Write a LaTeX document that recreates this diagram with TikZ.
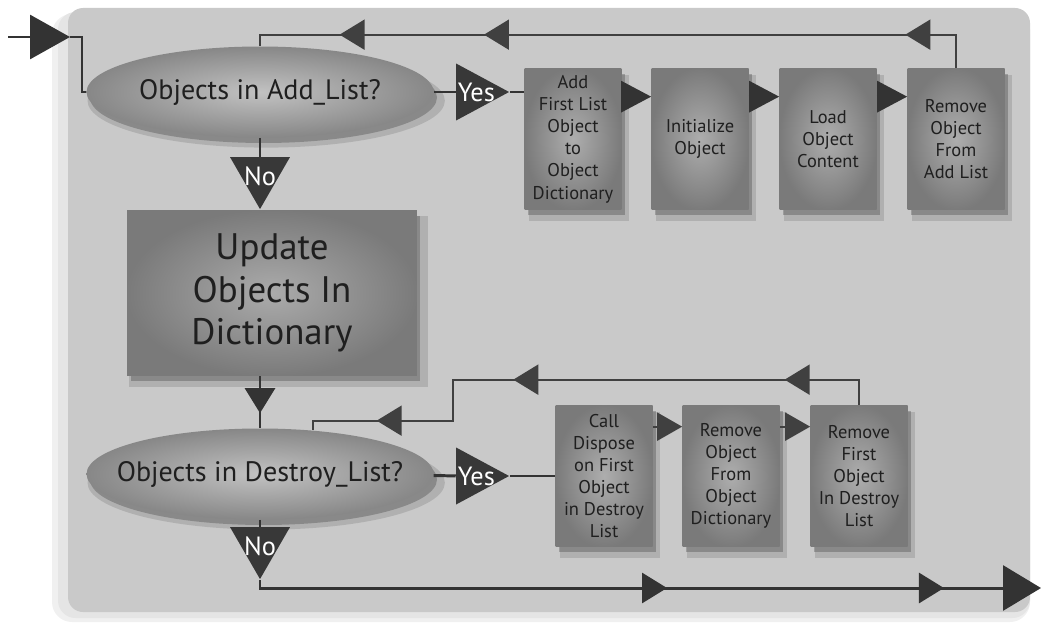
\documentclass[tikz,border=0pt]{standalone}
\usepackage{fontspec}
\setmainfont{PT Sans}
\usetikzlibrary{shapes.geometric,arrows.meta,decorations.markings,shadows,calc}

\begin{document}
\begin{tikzpicture}[x=0.02cm,y=-0.02cm,
    flow/.style={draw=black!80,line width=1.7pt},
    back/.style={draw=black!75,line width=1.1pt},
    midtip/.style={postaction={decorate,decoration={markings,
      mark=at position #1 with {\arrow{Triangle[length=0.5cm,width=0.6cm]}}}}},
    boxshadow/.style={
      drop shadow={shadow xshift=0.12cm,shadow yshift=-0.17cm,shadow scale=1.03,opacity=0.12,fill=black},
      drop shadow={shadow xshift=0.07cm,shadow yshift=-0.11cm,opacity=0.22,fill=black}}]

      \useasboundingbox (0,0) rectangle (1044,625);

      \fill[black!6,rounded corners=0.4cm] (52,14) rectangle (1030,622);
      \fill[black!10,rounded corners=0.35cm] (58,12) rectangle (1030,618);
      \fill[black!21,rounded corners=0.3cm] (68,8) rectangle (1030,612);

      \coordinate (in)    at (8,37);
      \coordinate (entry) at (70,37);
      \coordinate (out)   at (1041,588);

      \begin{scope}[every node/.style={ellipse,minimum width=6.94cm,minimum height=1.82cm,
          inner xsep=-30pt,inner ysep=0pt,inner color=black!24,outer color=black!47,text=black!88,
          font=\fontsize{16}{18}\selectfont,boxshadow}]
        \node (q1) at (260,92)  {Objects in Add\_List?};
        \node (q2) at (260,474) {Objects in Destroy\_List?};
      \end{scope}

      \node[minimum width=5.8cm,minimum height=3.32cm,inner color=black!33,outer color=black!52,
        align=center,text=black!88,font=\fontsize{21}{24}\selectfont,boxshadow]
        (upd) at (272,293) {Update\\Objects In\\Dictionary};

      \begin{scope}[every node/.style={minimum width=1.94cm,minimum height=2.84cm,inner sep=1pt,
          align=center,inner color=black!32,outer color=black!52,text=black!88,
          font=\fontsize{10.5}{12.6}\selectfont,boxshadow}]
        \node (b1) at (573,139) {Add\\First List\\Object\\to\\Object\\Dictionary};
        \node (b2) at (700,139) {Initialize\\Object};
        \node (b3) at (828,139) {Load\\Object\\Content};
        \node (b4) at (956,139) {Remove\\Object\\From\\Add List};
        \node (c1) at (604,476) {Call\\Dispose\\on First\\Object\\in Destroy\\List};
        \node (c2) at (731,476) {Remove\\Object\\From\\Object\\Dictionary};
        \node (c3) at (859,476) {Remove\\First\\Object\\In Destroy\\List};
      \end{scope}

      \begin{scope}[every node/.style={isosceles triangle,isosceles triangle stretches,
          inner sep=0pt,fill=black!78,anchor=apex}]
        \node[shape border rotate=0,minimum width=1.14cm,minimum height=1.06cm]   (yes1) at (510,92)  {};
        \node[shape border rotate=0,minimum width=1.14cm,minimum height=1.06cm]   (yes2) at (510,476) {};
        \node[shape border rotate=270,minimum width=1.2cm,minimum height=1.04cm]  (no1)  at (260,210) {};
        \node[shape border rotate=270,minimum width=1.2cm,minimum height=1.04cm]  (no2)  at (260,580) {};
      \end{scope}

      \begin{scope}[every node/.style={text=white,font=\fontsize{15}{15}\selectfont,inner sep=0pt}]
        \node (yes1t) at ($(yes1.apex)!0.62!(yes1.lower side)$) {Yes};
        \node (yes2t) at ($(yes2.apex)!0.62!(yes2.lower side)$) {Yes};
        \node (no1t)  at ($(no1.apex)!0.64!(no1.lower side)$)  {No};
        \node (no2t)  at ($(no2.apex)!0.64!(no2.lower side)$)  {No};
      \end{scope}

      \begin{scope}[every edge/.style={flow}]
        \path (in) edge[-{Triangle[length=0.8cm,width=0.88cm]}] (entry);
        \path (q1) edge (yes1);
        \path (yes1.apex) edge (b1.west |- yes1.apex);
        \path (q1) edge (no1);
        \path (q2) edge (yes2);
        \path (yes2.apex) edge (c1.west |- yes2.apex);
        \path (q2) edge (no2);
        \path ([yshift=-0.58cm]b1.north east) edge[-{Triangle[length=0.6cm,width=0.62cm]}] ([yshift=-0.58cm]b2.north west);
        \path ([yshift=-0.58cm]b2.north east) edge[-{Triangle[length=0.6cm,width=0.62cm]}] ([yshift=-0.58cm]b3.north west);
        \path ([yshift=-0.58cm]b3.north east) edge[-{Triangle[length=0.6cm,width=0.62cm]}] ([yshift=-0.58cm]b4.north west);
      \end{scope}

      \begin{scope}[every edge/.style={back}]
        \path ([yshift=-0.44cm]c1.north east) edge[-{Triangle[length=0.5cm,width=0.56cm]}] ([yshift=-0.44cm]c2.north west);
        \path ([yshift=-0.44cm]c2.north east) edge[-{Triangle[length=0.5cm,width=0.56cm]}] ([yshift=-0.44cm]c3.north west);
      \end{scope}

      \draw[flow] (entry) -- ++(12,0) |- (q1.west);
      \draw[flow,midtip=0.71] (upd.south -| q2.north) -- (q2.north);
      \draw[flow,midtip=0.526,midtip=0.877,-{Triangle[length=0.76cm,width=0.9cm]}] (no2.apex) |- (out);

      \draw[back,midtip=0.113,midtip=0.682,midtip=0.877] (b4.north) -- ++(0,-33) -| (q1.north);
      \draw[back,midtip=0.16,midtip=0.597,midtip=0.883] (c3.north) -- ++(0,-25) -- ++(-406,0)
        -- ++(0,41) -- ++(-140,0) -- ++(0,9);

    \end{tikzpicture}
\end{document}
